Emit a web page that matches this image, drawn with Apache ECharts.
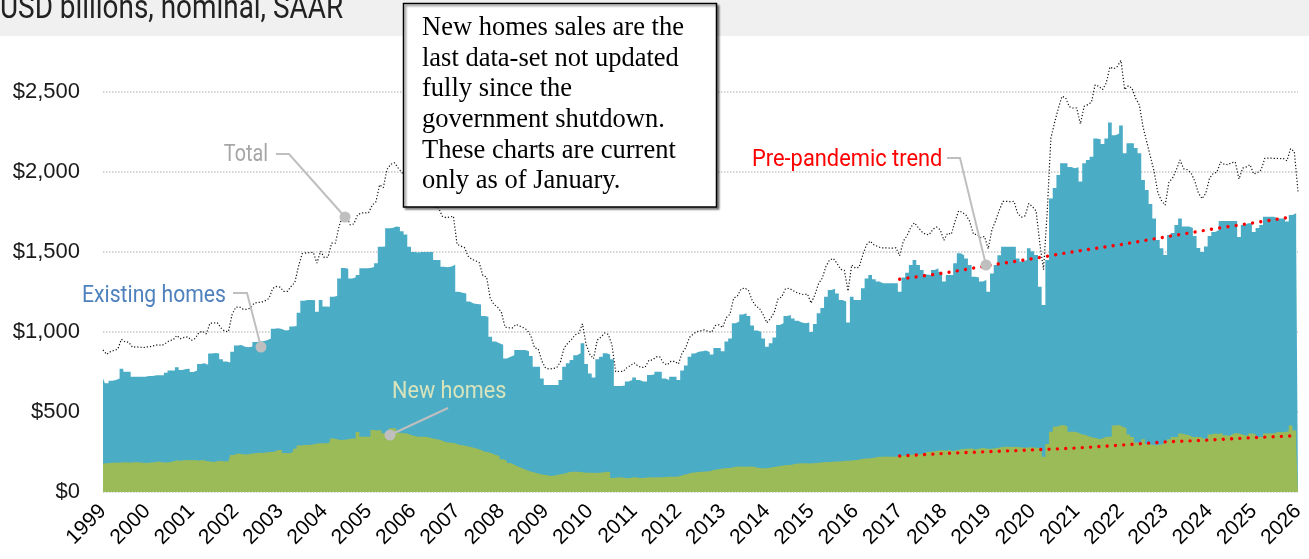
<!DOCTYPE html>
<html>
<head>
<meta charset="utf-8">
<script src="https://cdn.jsdelivr.net/npm/echarts@6/dist/echarts.min.js"></script>
<style>
html,body{margin:0;padding:0;background:#fff;}
#chart{width:1309px;height:559px;}
</style>
</head>
<body>
<div id="chart"></div>
<script>
// ---- Data (USD billions, nominal, SAAR), monthly Jan 1999 .. Jan 2026 ----
const years = ['1999','2000','2001','2002','2003','2004','2005','2006','2007','2008','2009','2010','2011','2012',
  '2013','2014','2015','2016','2017','2018','2019','2020','2021','2022','2023','2024','2025','2026'];

const existingHomes = [
  710, 680, 695, 700, 710, 770, 752, 752, 720, 720, 720, 720,          // 1999
  725, 725, 730, 730, 730, 745, 760, 760, 780, 762, 768, 770,          // 2000
  750, 760, 800, 805, 795, 865, 868, 866, 830, 815, 810, 877,          // 2001
  915, 919, 908, 905, 910, 938, 940, 942, 948, 960, 1020, 1023,        // 2002
  1018, 1010, 1012, 1035, 1038, 1120, 1195, 1200, 1200, 1198, 1127, 1200, // 2003
  1160, 1158, 1221, 1225, 1335, 1400, 1395, 1335, 1340, 1356, 1398, 1398, // 2004
  1400, 1406, 1429, 1533, 1535, 1648, 1650, 1660, 1656, 1630, 1610, 1533, // 2005
  1500, 1497, 1500, 1500, 1500, 1500, 1450, 1450, 1408, 1405, 1410, 1420, // 2006
  1252, 1245, 1240, 1190, 1178, 1175, 1172, 1100, 1096, 971, 940, 930,    // 2007
  920, 835, 845, 855, 887, 887, 887, 880, 850, 783, 783, 710,          // 2008
  669, 669, 669, 669, 700, 783, 804, 825, 855, 867, 929, 800,          // 2009
  740, 715, 830, 846, 867, 860, 830, 662, 662, 665, 690, 700,          // 2010
  715, 700, 690, 690, 731, 735, 752, 752, 710, 700, 721, 721,          // 2011
  700, 760, 790, 846, 865, 877, 880, 885, 875, 860, 900, 900,          // 2012
  880, 940, 960, 1054, 1065, 1110, 1117, 1100, 1040, 1010, 1000, 960,  // 2013
  908, 930, 965, 1044, 1054, 1100, 1106, 1085, 1070, 1060, 1054, 1060, // 2014
  1000, 1050, 1117, 1150, 1221, 1262, 1270, 1240, 1200, 1190, 1060, 1221, // 2015
  1200, 1200, 1273, 1335, 1356, 1330, 1315, 1305, 1304, 1304, 1304, 1304, // 2016
  1252, 1340, 1370, 1419, 1450, 1419, 1387, 1360, 1356, 1387, 1398, 1377, // 2017
  1315, 1356, 1356, 1429, 1492, 1480, 1460, 1419, 1346, 1340, 1315, 1325, // 2018
  1252, 1365, 1419, 1480, 1533, 1533, 1533, 1533, 1460, 1440, 1450, 1523, // 2019
  1505, 1481, 1283, 1169, 1450, 1835, 1900, 1981, 2054, 2054, 2031, 2023, // 2020
  2030, 1940, 2054, 2075, 2096, 2210, 2205, 2175, 2210, 2310, 2230, 2240, // 2021
  2290, 2117, 2179, 2179, 2150, 2117, 1950, 1887, 1800, 1710, 1575, 1523, // 2022
  1481, 1606, 1619, 1669, 1710, 1660, 1660, 1650, 1600, 1525, 1500, 1535, // 2023
  1600, 1625, 1636, 1694, 1694, 1694, 1694, 1694, 1594, 1669, 1680, 1680, // 2024
  1625, 1650, 1669, 1721, 1721, 1721, 1710, 1710, 1710, 1690, 1731, 1742, // 2025
  1585                                                                   // 2026
];

const newHomes = [
  178, 180, 182, 185, 183, 185, 186, 184, 185, 187, 185, 183,  // 1999
  182, 185, 186, 190, 186, 185, 186, 190, 198, 196, 198, 200,  // 2000
  198, 200, 196, 200, 193, 190, 188, 192, 195, 190, 192, 232,  // 2001
  240, 238, 235, 236, 240, 242, 245, 244, 248, 250, 252, 262,  // 2002
  262, 244, 242, 250, 271, 290, 294, 294, 296, 300, 304, 305,  // 2003
  305, 310, 335, 330, 325, 326, 330, 335, 335, 375, 346, 346,  // 2004
  346, 387, 385, 387, 367, 368, 398, 398, 370, 367, 366, 356,  // 2005
  350, 346, 345, 346, 340, 335, 330, 325, 315, 310, 308, 304,  // 2006
  296, 292, 288, 283, 276, 270, 262, 252, 248, 240, 232, 225,  // 2007
  205, 195, 182, 170, 160, 150, 140, 132, 125, 118, 112, 108,  // 2008
  105, 100, 103, 108, 112, 117, 125, 127, 127, 125, 122, 120,  // 2009
  120, 118, 120, 122, 127, 125, 88, 90, 92, 88, 86, 90,        // 2010
  92, 88, 88, 90, 92, 90, 92, 92, 94, 95, 96, 96,              // 2011
  100, 108, 112, 120, 122, 125, 127, 128, 130, 138, 140, 145,  // 2012
  148, 150, 152, 158, 160, 158, 158, 160, 158, 152, 148, 148,  // 2013
  150, 155, 158, 162, 165, 168, 168, 175, 178, 179, 180, 178,  // 2014
  180, 182, 185, 186, 188, 188, 190, 190, 192, 195, 196, 198,  // 2015
  200, 205, 210, 210, 212, 215, 220, 221, 222, 221, 220, 222,  // 2016
  225, 228, 232, 235, 233, 235, 240, 250, 252, 255, 258, 262,  // 2017
  258, 262, 255, 262, 265, 268, 270, 272, 265, 270, 275, 272,  // 2018
  268, 272, 275, 280, 283, 283, 282, 283, 280, 278, 276, 280,  // 2019
  278, 275, 270, 221, 300, 377, 408, 415, 419, 410, 377, 377,  // 2020
  370, 360, 356, 346, 340, 335, 330, 340, 346, 346, 415, 419,  // 2021
  408, 398, 360, 344, 310, 302, 330, 300, 295, 292, 295, 298,  // 2022
  312, 330, 344, 344, 365, 360, 354, 344, 344, 344, 333, 333,  // 2023
  360, 366, 362, 368, 354, 352, 364, 368, 362, 355, 352, 366,  // 2024
  362, 346, 344, 365, 366, 365, 375, 374, 375, 380, 415, 385,  // 2025
  294                                                          // 2026
];

// Pre-pandemic trend, read at these months
const trendMonths   = ['2017-01','2018-01','2019-01','2020-01','2021-01','2022-01','2023-01','2024-01','2025-01','2025-11'];
const trendExisting = [1330, 1368, 1415, 1458, 1505, 1546, 1594, 1640, 1682, 1718];
const trendNew      = [225, 241, 252, 263, 275, 293, 313, 325, 340, 350];

const noteLines = ['New homes sales are the', 'last data-set not updated', 'fully since the',
  'government shutdown.', 'These charts are current', 'only as of January.'];

// ---- Build categories and series ----
const months = [];
years.forEach(y => { for (let m = 1; m <= 12; m++) months.push(y + '-' + String(m).padStart(2, '0')); });
months.length = existingHomes.length;

const total = existingHomes.map((v, i) => v + newHomes[i]);
const trendSeries = vals => months.map(m => { const k = trendMonths.indexOf(m); return k >= 0 ? vals[k] : null; });

const BLUE = '#4bacc6', GREEN = '#9bbb59', GREY = '#bfbfbf';
const COND = 'Roboto, "Liberation Sans", sans-serif';

function label(text, x, y, color, align, sx) {
  return { type: 'text', x: x, y: y, scaleX: sx || 0.86, z: 100,
    style: { text: text, fill: color, font: '23px ' + COND, align: align || 'left', verticalAlign: 'middle' } };
}
function leader(points, dot) {
  return [
    { type: 'polyline', z: 100, shape: { points: points }, style: { stroke: GREY, lineWidth: 2, fill: null } },
    { type: 'circle', z: 101, shape: { cx: dot[0], cy: dot[1], r: 5.5 }, style: { fill: GREY } }
  ];
}

const graphics = [
  { type: 'rect', z: 90, shape: { x: 0, y: 0, width: 1309, height: 36 }, style: { fill: '#f0f0f0' } },
  { type: 'text', x: 0, y: 9.5, scaleX: 0.82, z: 91,
    style: { text: 'USD billions, nominal, SAAR', fill: '#222', font: '34px ' + COND, align: 'left', verticalAlign: 'middle' } },
  { type: 'rect', z: 95, shape: { x: 403.5, y: 3.5, width: 313, height: 203.5 },
    style: { fill: '#fff', stroke: '#000', lineWidth: 1.5, shadowColor: 'rgba(0,0,0,0.45)', shadowBlur: 2, shadowOffsetX: 2, shadowOffsetY: 2 } },
  label('Total', 268, 155, '#a6a6a6', 'right', 0.86),
  label('Existing homes', 82, 296, '#4f81bd', 'left', 0.92),
  label('New homes', 392, 392, '#d8e4bc', 'left', 0.94),
  label('Pre-pandemic trend', 752, 160, '#ff0000', 'left', 0.95),
  ...leader([[276, 154], [289, 154], [345, 217]], [345, 217]),
  ...leader([[233, 293], [247, 293], [261, 347]], [261, 347]),
  ...leader([[448, 408], [390, 435]], [390, 435]),
  ...leader([[947, 158], [960, 158], [986, 265]], [986, 265])
];
noteLines.forEach((t, k) => {
  graphics.push({ type: 'text', x: 422, y: 28.2 + k * 30.6, z: 96,
    style: { text: t, fill: '#000', font: '26.5px "Liberation Serif", "Times New Roman", serif', align: 'left', verticalAlign: 'middle' } });
});

const chart = echarts.init(document.getElementById('chart'), null, { renderer: 'canvas' });
chart.setOption({
  animation: false,
  backgroundColor: '#fff',
  grid: { left: 103, right: 11, top: 12, bottom: 67, containLabel: false },
  xAxis: {
    type: 'category', data: months, boundaryGap: false,
    axisLine: { show: false }, axisTick: { show: false },
    axisLabel: {
      interval: (idx) => idx % 12 === 0,
      formatter: v => v.slice(0, 4),
      rotate: 45, margin: 16, fontSize: 21, color: '#000', fontFamily: '"Liberation Sans", Arial, sans-serif'
    },
    splitLine: { show: false }
  },
  yAxis: {
    type: 'value', min: 0, max: 3000, interval: 500,
    axisLine: { show: false }, axisTick: { show: false },
    axisLabel: {
      formatter: v => '$' + v.toLocaleString('en-US'), margin: 23, fontSize: 22, color: '#1a1a1a',
      fontFamily: '"Liberation Sans", Arial, sans-serif', showMaxLabel: false
    },
    splitLine: { show: true, showMaxLine: false, lineStyle: { type: 'dotted', color: '#c6c6c6', width: 1.5 } }
  },
  series: [
    { name: 'Existing homes', type: 'line', step: 'middle', data: existingHomes, symbol: 'none', z: 1,
      lineStyle: { width: 0 }, itemStyle: { color: BLUE }, areaStyle: { color: BLUE, opacity: 1 } },
    { name: 'New homes', type: 'line', step: 'middle', data: newHomes, symbol: 'none', z: 2,
      lineStyle: { width: 0 }, itemStyle: { color: GREEN }, areaStyle: { color: GREEN, opacity: 1 } },
    { name: 'Total', type: 'line', data: total, symbol: 'none', z: 3,
      lineStyle: { color: '#111', width: 1.2, type: [1.2, 2] } },
    { name: 'Trend existing', type: 'line', data: trendSeries(trendExisting), connectNulls: true, symbol: 'none', z: 4,
      lineStyle: { color: '#ff0000', width: 3.4, type: [0.01, 8.3], cap: 'round' } },
    { name: 'Trend new', type: 'line', data: trendSeries(trendNew), connectNulls: true, symbol: 'none', z: 4,
      lineStyle: { color: '#ff0000', width: 3.4, type: [0.01, 8.3], cap: 'round' } }
  ],
  graphic: { elements: graphics }
});
</script>
</body>
</html>
